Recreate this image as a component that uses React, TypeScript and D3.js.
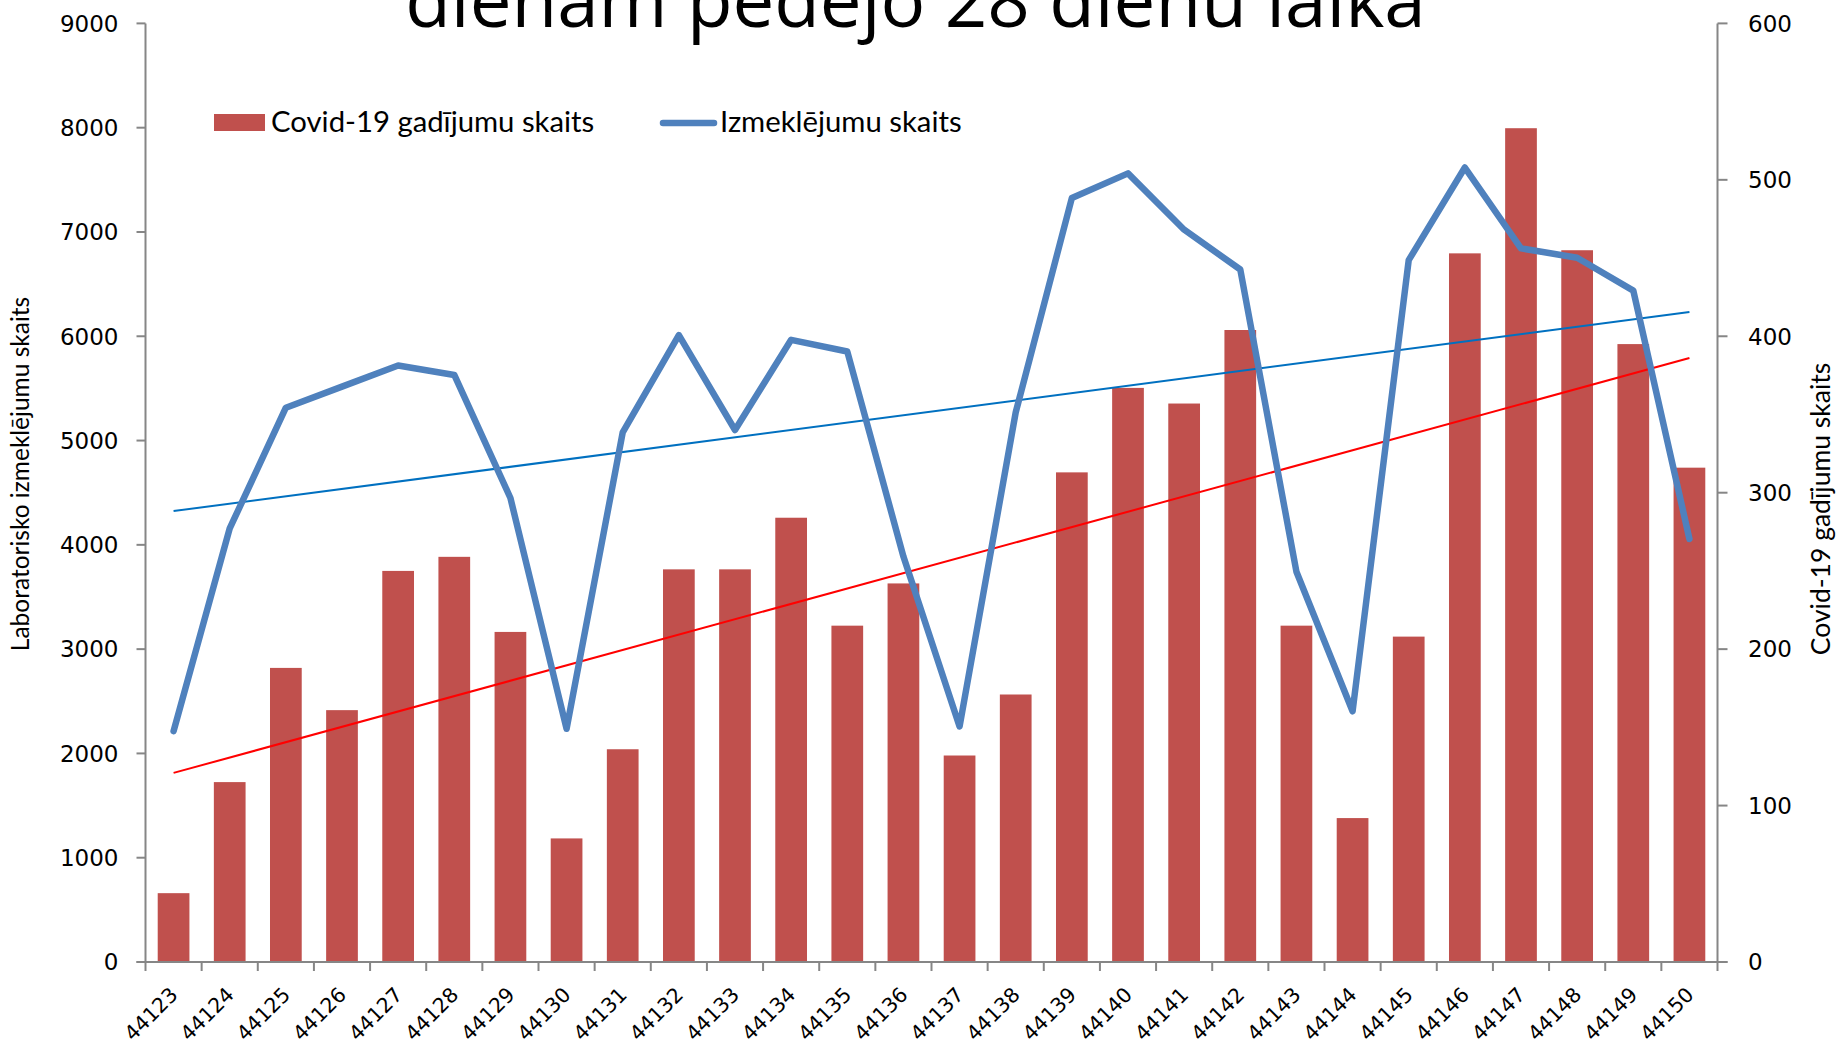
import React from "react";
import * as d3 from "d3";

const categories = [
  "44123","44124","44125","44126","44127","44128","44129","44130","44131","44132",
  "44133","44134","44135","44136","44137","44138","44139","44140","44141","44142",
  "44143","44144","44145","44146","44147","44148","44149","44150",
];
const covidCases = [
  44, 115, 188, 161, 250, 259, 211, 79, 136, 251,
  251, 284, 215, 242, 132, 171, 313, 367, 357, 404,
  215, 92, 208, 453, 533, 455, 395, 316,
];
const labTests = [
  2213, 4157, 5315, 5517, 5719, 5629, 4449, 2236, 5079, 6011,
  5101, 5966, 5854, 3888, 2258, 5270, 7326, 7562, 7022, 6640,
  3742, 2404, 6730, 7618, 6843, 6753, 6438, 4056,
];
const leftTicks = [0, 1000, 2000, 3000, 4000, 5000, 6000, 7000, 8000, 9000];
const rightTicks = [0, 100, 200, 300, 400, 500, 600];
const titleText = "dienām pēdējo 28 dienu laikā";
const leftAxisTitle = "Laboratorisko izmeklējumu skaits";
const rightAxisTitle = "Covid-19 gadījumu skaits";
const legendBars = "Covid-19 gadījumu skaits";
const legendLine = "Izmeklējumu skaits";

const W = 1837;
const H = 1048;
const M = { left: 145.5, right: 1717.5, top: 23.4, bottom: 962 };

function linReg(vals: number[]) {
  const n = vals.length;
  const xm = (n - 1) / 2;
  const ym = d3.mean(vals) as number;
  let num = 0, den = 0;
  vals.forEach((v, i) => { num += (i - xm) * (v - ym); den += (i - xm) * (i - xm); });
  const b = num / den;
  return (i: number) => ym + b * (i - xm);
}

export default function App() {
  const x = d3.scaleBand<string>().domain(categories).range([M.left, M.right]).paddingInner(0).paddingOuter(0);
  const yL = d3.scaleLinear().domain([0, 9000]).range([M.bottom, M.top]);
  const yR = d3.scaleLinear().domain([0, 600]).range([M.bottom, M.top]);
  const bw = x.bandwidth();
  const barW = bw * 0.565;
  const cx = (c: string) => (x(c) as number) + bw / 2;

  const line = d3.line<number>().x((_, i) => cx(categories[i])).y((v) => yL(v));
  const trL = linReg(labTests);
  const trR = linReg(covidCases);
  const n = categories.length;
  const axisColor = "#868686";
  const tickFont = "DejaVu Sans";
  const labFont = "Lato";

  const boundaries = d3.range(n + 1).map((i) => M.left + i * bw);

  return (
    <svg width={W} height={H} style={{ position: "absolute", left: 0, top: 0, background: "#fff" }}>
      <rect x={0} y={0} width={W} height={H} fill="#fff" />
      {/* title (partially cut, as in the source) */}
      <text x={915.5} y={27} textAnchor="middle" fontFamily="Open Sans" fontSize={74.5} fill="#000">
        {titleText}
      </text>

      {/* bars */}
      {covidCases.map((v, i) => (
        <rect key={i} x={cx(categories[i]) - barW / 2} y={yR(v)} width={barW} height={M.bottom - yR(v)} fill="#C0504D" />
      ))}

      {/* trend lines */}
      <line x1={cx(categories[0])} x2={cx(categories[n - 1])} y1={yR(trR(0))} y2={yR(trR(n - 1))} stroke="#FF0000" strokeWidth={2} />
      <line x1={cx(categories[0])} x2={cx(categories[n - 1])} y1={yL(trL(0))} y2={yL(trL(n - 1))} stroke="#0070C0" strokeWidth={2} />

      {/* tests line */}
      <path d={line(labTests) as string} fill="none" stroke="#4F81BD" strokeWidth={6.5} strokeLinejoin="round" strokeLinecap="round" />

      {/* left axis */}
      <line x1={M.left} x2={M.left} y1={M.top} y2={M.bottom} stroke={axisColor} strokeWidth={2} />
      {leftTicks.map((t) => (
        <g key={t}>
          <line x1={M.left - 9} x2={M.left} y1={yL(t)} y2={yL(t)} stroke={axisColor} strokeWidth={2} />
          <text x={118.5} y={yL(t)} dy="0.36em" textAnchor="end" fontFamily={tickFont} fontSize={23} fill="#000">{t}</text>
        </g>
      ))}
      {/* right axis */}
      <line x1={M.right} x2={M.right} y1={M.top} y2={M.bottom} stroke={axisColor} strokeWidth={2} />
      {rightTicks.map((t) => (
        <g key={t}>
          <line x1={M.right} x2={M.right + 10} y1={yR(t)} y2={yR(t)} stroke={axisColor} strokeWidth={2} />
          <text x={1748} y={yR(t)} dy="0.36em" textAnchor="start" fontFamily={tickFont} fontSize={23} fill="#000">{t}</text>
        </g>
      ))}
      {/* bottom axis */}
      <line x1={M.left - 9} x2={M.right + 10} y1={M.bottom} y2={M.bottom} stroke={axisColor} strokeWidth={2} />
      {boundaries.map((b, i) => (
        <line key={i} x1={b} x2={b} y1={M.bottom} y2={M.bottom + 9} stroke={axisColor} strokeWidth={2} />
      ))}
      {categories.map((c) => (
        <text key={c} transform={`translate(${cx(c) + 5.5},${996}) rotate(-45)`} textAnchor="end" fontFamily={tickFont} fontSize={20.5} fill="#000">{c}</text>
      ))}

      {/* axis titles */}
      <text transform={`translate(29,474) rotate(-90)`} textAnchor="middle" fontFamily={labFont} fontSize={24.5} fill="#000">{leftAxisTitle}</text>
      <text transform={`translate(1830,509) rotate(-90)`} textAnchor="middle" fontFamily={labFont} fontSize={26.5} fill="#000">{rightAxisTitle}</text>

      {/* legend */}
      <rect x={214} y={114} width={51} height={17} fill="#C0504D" />
      <text x={271} y={132} fontFamily={labFont} fontSize={29.3} fill="#000">{legendBars}</text>
      <line x1={663} x2={714} y1={123} y2={123} stroke="#4F81BD" strokeWidth={6.5} strokeLinecap="round" />
      <text x={720} y={132} fontFamily={labFont} fontSize={29.3} fill="#000">{legendLine}</text>
    </svg>
  );
}
